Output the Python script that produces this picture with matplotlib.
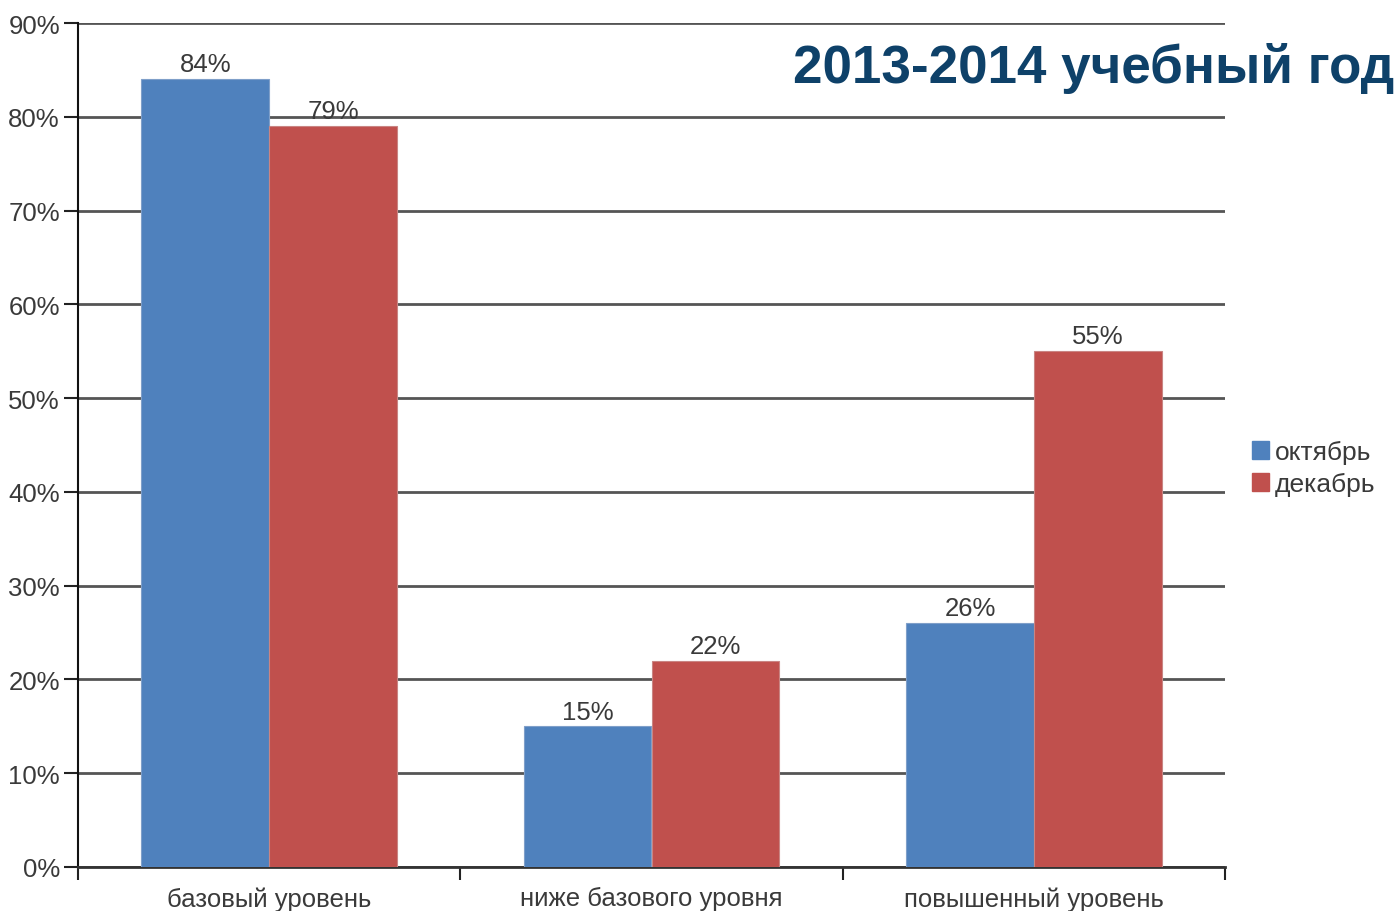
import matplotlib
matplotlib.use("Agg")
import matplotlib.pyplot as plt
import numpy as np
from matplotlib.patches import Patch

categories = ["базовый уровень", "ниже базового уровня", "повышенный уровень"]
october = [84, 15, 26]
december = [79, 22, 55]
series_names = ["октябрь", "декабрь"]
title = "2013-2014 учебный год"

plt.rcParams['font.family'] = ['Liberation Sans', 'DejaVu Sans']

fig = plt.figure(figsize=(13.98, 9.12), dpi=100)
ax = fig.add_axes([78/1398, 44/912, (1225-78)/1398, (868-24)/912])

blue = "#4f81bd"
red = "#c0504d"
txt = "#3a3a3a"
fs = 18.5
w = 0.334
x = np.arange(len(categories))
b1 = ax.bar(x - w/2, october, w, color=blue, edgecolor="#7f9fc9", linewidth=0.8, zorder=3)
b2 = ax.bar(x + w/2, december, w, color=red, edgecolor="#c98583", linewidth=0.8, zorder=3)

for bars, vals in ((b1, october), (b2, december)):
    for r, v in zip(bars, vals):
        ax.text(r.get_x() + r.get_width()/2, v + 0.3, f"{v}%", ha="center", va="bottom",
                fontsize=fs, color=txt, zorder=4)

ax.set_xlim(-0.5, 2.5)
ax.set_ylim(0, 90)
ax.set_yticks(np.arange(0, 91, 10))
ax.set_yticklabels([f"{v}%" for v in range(0, 91, 10)], fontsize=fs, color=txt)
ax.yaxis.grid(True, color="#555555", linewidth=2.0, zorder=1)
ax.set_axisbelow(True)

ax.set_xticks([-0.5, 0.5, 1.5, 2.5])
ax.set_xticklabels([])
ax.set_xticks(x, minor=True)
ax.set_xticklabels(categories, minor=True, fontsize=fs, color=txt)
ax.tick_params(axis='x', which='minor', length=0, pad=14)
ax.tick_params(axis='x', which='major', length=9, width=1.5, direction='out', color="#222222")
ax.tick_params(axis='y', length=10, width=1.5, color="#222222", pad=3)

for s in ("top", "right"):
    ax.spines[s].set_visible(False)
ax.spines["left"].set_linewidth(1.5)
ax.spines["left"].set_color("#111111")
ax.spines["bottom"].set_linewidth(2.0)
ax.spines["bottom"].set_color("#333333")

handles = [Patch(facecolor=blue, edgecolor=blue), Patch(facecolor=red, edgecolor=red)]
fig.legend(handles, series_names, loc="center left", bbox_to_anchor=(1239/1398, 1 - 469/912),
           frameon=False, fontsize=19, handlelength=0.65, handleheight=0.65,
           handletextpad=0.2, labelspacing=0.3, borderpad=0, labelcolor=txt)

fig.text(1394/1398, 1 - 68/912, title, ha="right", va="center", fontsize=38.2,
         fontweight="bold", color="#0e4169")

fig.savefig("out.png", dpi=100, facecolor="white")
